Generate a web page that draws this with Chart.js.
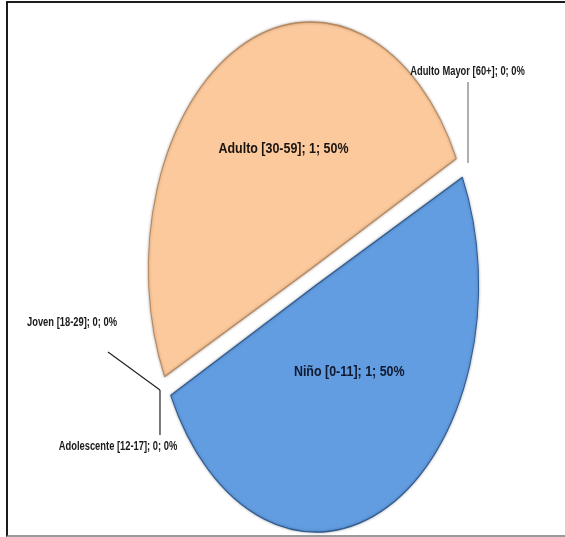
<!DOCTYPE html>
<html>
<head>
<meta charset="utf-8">
<script src="https://cdn.jsdelivr.net/npm/chart.js@4.4.1/dist/chart.umd.min.js"></script>
<style>
    html, body { margin: 0; padding: 0; background: #fff; }
    #marco {
        position: absolute; left: 6px; top: 1px; width: 620px; height: 532px;
        border-left: 2px solid #1c1c1c; border-top: 2px solid #1c1c1c; border-bottom: 2px solid #9a9a9a;
    }
    #contenedor { position: absolute; left: 0; top: 0; width: 565px; height: 537px; }
</style>
</head>
<body>
<div id="marco"></div>
<div id="contenedor"><canvas id="graficoEdades" width="565" height="537"></canvas></div>
<script>
const categorias = ["Niño [0-11]", "Adolescente [12-17]", "Joven [18-29]", "Adulto [30-59]", "Adulto Mayor [60+]"];
const valores = [1, 0, 0, 1, 0];
const colores = ["#629DE1", "#A5A5A5", "#FFC000", "#FCC99C", "#4472C4"];
const bordes = ["#2F5B92", "#777777", "#997300", "#B8875C", "#2F4F8A"];

const escalaX = 0.658;   // el pastel se ve como elipse vertical
const fuente = "'Liberation Sans', Arial, sans-serif";

document.addEventListener("DOMContentLoaded", function () {
    const canvas = document.getElementById("graficoEdades");
    const ctx = canvas.getContext("2d");
    const total = valores.reduce((a, b) => a + b, 0);

    function texto(i) {
        return categorias[i] + "; " + valores[i] + "; " + Math.round(valores[i] / total * 100) + "%";
    }

    function centro(chart) {
        const a = chart.chartArea;
        return { x: (a.left + a.right) / 2, y: (a.top + a.bottom) / 2 };
    }

    // texto angosto tipo Calibri
    function escribir(g, s, x, y, estrechez) {
        g.save();
        g.translate(x, y);
        g.scale(estrechez, 1);
        g.fillText(s, 0, 0);
        g.restore();
    }

    // Achata el pastel en horizontal
    const elipse = {
        id: "elipse",
        beforeDatasetsDraw(chart) {
            const c = centro(chart);
            const g = chart.ctx;
            g.save();
            g.translate(c.x, c.y);
            g.scale(escalaX, 1);
            g.translate(-c.x, -c.y);
            g.shadowColor = "rgba(0,0,0,0.3)";
            g.shadowBlur = 3;
        },
        afterDatasetsDraw(chart) {
            chart.ctx.restore();
        }
    };

    // Etiquetas: dentro para las porciones, con guía para los ceros
    const etiquetas = {
        id: "etiquetas",
        afterDraw(chart) {
            const g = chart.ctx;
            const c = centro(chart);
            const arcos = chart.getDatasetMeta(0).data;
            // [fracción del radio, giro en grados] para cada etiqueta interior
            const ubicacion = { 0: [0.385, -4.2], 3: [0.496, 7.6] };
            g.save();
            g.textAlign = "center";
            g.textBaseline = "middle";

            arcos.forEach(function (arco, i) {
                const p = arco.getProps(["startAngle", "endAngle", "outerRadius"], true);
                const r = p.outerRadius;
                if (valores[i] > 0) {
                    const medio = (p.startAngle + p.endAngle) / 2;
                    const off = arco.options.offset / 2;
                    const u = ubicacion[i] || [0.5, 0];
                    const ang = medio + u[1] * Math.PI / 180;
                    const x = c.x + (u[0] * r * Math.cos(ang) + off * Math.cos(medio)) * escalaX;
                    const y = c.y + u[0] * r * Math.sin(ang) + off * Math.sin(medio);
                    g.font = "bold 15px " + fuente;
                    g.fillStyle = i === 0 ? "#0f1a30" : "#1a1410";
                    escribir(g, texto(i), x, y, 0.83);
                    return;
                }
                const ax = c.x + r * Math.cos(p.startAngle) * escalaX;
                const ay = c.y + r * Math.sin(p.startAngle);
                let linea, pos, color;
                if (i === 4) {
                    linea = [[ax + 14, ay - 9], [ax + 14, ay - 90]];
                    pos = [ax + 13.5, ay - 100];
                    color = "#7a7a7a";
                } else if (i === 2) {
                    linea = [[ax - 13, ay + 8], [ax - 65, ay - 30]];
                    pos = [ax - 101, ay - 59];
                    color = "#222";
                } else {
                    linea = [[ax - 13, ay + 8], [ax - 13, ay + 53]];
                    pos = [ax - 55, ay + 65];
                    color = "#222";
                }
                g.strokeStyle = color;
                g.lineWidth = 1.2;
                g.beginPath();
                g.moveTo(linea[0][0], linea[0][1]);
                g.lineTo(linea[1][0], linea[1][1]);
                g.stroke();
                g.font = "bold 12px " + fuente;
                g.fillStyle = "#1a1a1a";
                escribir(g, texto(i), pos[0], pos[1], 0.78);
            });
            g.restore();
        }
    };

    new Chart(ctx, {
        type: "pie",
        data: {
            labels: categorias,
            datasets: [{
                data: valores,
                backgroundColor: colores,
                borderColor: bordes,
                borderWidth: 1.5,
                offset: [36, 0, 0, 36, 0]
            }]
        },
        options: {
            responsive: false,
            animation: false,
            rotation: 63.8,
            radius: 238,
            layout: { padding: { left: 66, right: 4, top: 29, bottom: 12 } },
            plugins: {
                legend: { display: false },
                tooltip: { enabled: false }
            }
        },
        plugins: [elipse, etiquetas]
    });
});
</script>
</body>
</html>
